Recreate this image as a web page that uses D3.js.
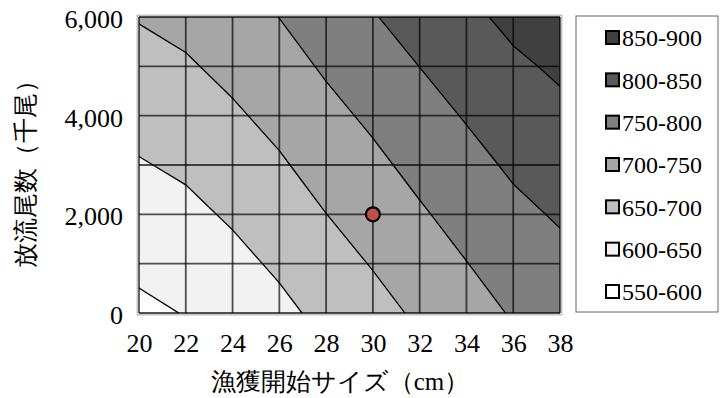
<!DOCTYPE html>
<html>
<head>
<meta charset="utf-8">
<script src="https://cdnjs.cloudflare.com/ajax/libs/d3/7.8.5/d3.min.js"></script>
<style>
  body { margin: 0; background: #fff; }
</style>
</head>
<body>
<svg id="chart" width="722" height="398"></svg>
<script>
// grid columns (catch start size, cm) and rows (release count, thousand fish)
const sizes = [20, 22, 24, 26, 28, 30, 32, 34, 36, 38];
const releases = [0, 1000, 2000, 3000, 4000, 5000, 6000];

// surface values, one array per row
const z0    = [590.5, 601.7, 618.5, 638.6, 662.2, 684.0, 707.4, 730.9, 753.8, 770.0];
const z1000 = [609.3, 620.3, 637.2, 657.3, 681.1, 702.6, 726.0, 749.0, 771.5, 787.4];
const z2000 = [628.0, 638.9, 655.9, 675.9, 699.6, 721.2, 744.6, 767.1, 789.1, 804.9];
const z3000 = [646.8, 657.5, 674.6, 694.6, 718.3, 739.9, 763.2, 785.3, 806.8, 822.3];
const z4000 = [665.4, 676.2, 693.4, 713.2, 737.0, 758.5, 781.8, 803.4, 824.5, 839.7];
const z5000 = [684.0, 694.8, 712.1, 731.9, 755.7, 777.2, 800.4, 821.5, 842.1, 857.1];
const z6000 = [702.6, 713.4, 730.8, 750.5, 774.4, 797.3, 819.0, 839.6, 861.0, 874.5];

const thresholds = [550, 600, 650, 700, 750, 800, 850];
const bandLabels = ['550-600', '600-650', '650-700', '700-750', '750-800', '800-850', '850-900'];
const bandColors = ['#ffffff', '#f2f2f2', '#bfbfbf', '#a6a6a6', '#7f7f7f', '#595959', '#404040'];

// current setting marker
const marker = { size: 30, release: 2000 };

const serif = '"Liberation Serif"';

const margin = { top: 17, right: 162, bottom: 85, left: 139 };
const width = 722, height = 398;
const innerWidth = width - margin.left - margin.right;
const innerHeight = height - margin.top - margin.bottom;

const svg = d3.select('#chart');
const g = svg.append('g')
  .attr('transform', `translate(${margin.left},${margin.top})`);

const xScale = d3.scaleLinear().domain(d3.extent(sizes)).range([0, innerWidth]);
const yScale = d3.scaleLinear().domain(d3.extent(releases)).range([innerHeight, 0]);

// contour grid -> data space (d3.contours puts sample i at i + 0.5)
const nx = sizes.length, ny = releases.length;
const rows = [z0, z1000, z2000, z3000, z4000, z5000, z6000];
const values = [].concat(...rows);
const gx = d3.scaleLinear().domain([0.5, nx - 0.5]).range(d3.extent(sizes));
const gy = d3.scaleLinear().domain([0.5, ny - 0.5]).range(d3.extent(releases));
const proj = d3.geoTransform({
  point(x, y) { this.stream.point(xScale(gx(x)), yScale(gy(y))); }
});
const path = d3.geoPath(proj);

const contours = d3.contours().size([nx, ny]).thresholds(thresholds)(values);

svg.append('defs').append('clipPath').attr('id', 'plot-clip')
  .append('rect').attr('width', innerWidth).attr('height', innerHeight);

const plot = g.append('g').attr('clip-path', 'url(#plot-clip)');

plot.append('rect')
  .attr('width', innerWidth).attr('height', innerHeight)
  .attr('fill', '#fff');

plot.selectAll('path.band')
  .data(contours)
  .enter().append('path')
  .attr('class', 'band')
  .attr('d', path)
  .attr('fill', (d, i) => bandColors[i])
  .attr('fill-rule', 'evenodd')
  .attr('stroke', 'none');

plot.selectAll('path.iso')
  .data(contours.slice(1))
  .enter().append('path')
  .attr('class', 'iso')
  .attr('d', path)
  .attr('fill', 'none')
  .attr('stroke', '#000')
  .attr('stroke-width', 1.3);

// grid lines at every data column / row
g.append('g').selectAll('line')
  .data(sizes)
  .enter().append('line')
  .attr('x1', d => xScale(d)).attr('x2', d => xScale(d))
  .attr('y1', 0).attr('y2', innerHeight)
  .attr('stroke', '#000').attr('stroke-opacity', 0.68).attr('stroke-width', 1.8);

g.append('g').selectAll('line')
  .data(releases)
  .enter().append('line')
  .attr('x1', 0).attr('x2', innerWidth)
  .attr('y1', d => yScale(d)).attr('y2', d => yScale(d))
  .attr('stroke', '#000').attr('stroke-opacity', 0.68).attr('stroke-width', 1.8);

g.append('rect')
  .attr('x', -1.8).attr('y', -1.8)
  .attr('width', innerWidth + 3.6).attr('height', innerHeight + 3.6)
  .attr('fill', 'none').attr('stroke', '#b5b5b5').attr('stroke-width', 1.2);

g.append('circle')
  .attr('cx', xScale(marker.size))
  .attr('cy', yScale(marker.release))
  .attr('r', 7)
  .attr('fill', '#c0504d')
  .attr('stroke', '#000')
  .attr('stroke-width', 2.2);

// axes
const xAxis = d3.axisBottom(xScale)
  .tickValues(sizes)
  .tickSize(0)
  .tickFormat(d3.format('d'));

const yAxis = d3.axisLeft(yScale)
  .tickValues(releases.filter((d, i) => i % 2 === 0))
  .tickSize(0)
  .tickPadding(16)
  .tickFormat(d3.format(','));

const xAxisG = g.append('g')
  .attr('transform', `translate(0,${innerHeight})`)
  .call(xAxis);
xAxisG.select('.domain').remove();
xAxisG.selectAll('text')
  .attr('y', 39).attr('dy', 0)
  .attr('fill', '#000')
  .style('font-family', serif)
  .style('font-size', '26px');

const yAxisG = g.append('g').call(yAxis);
yAxisG.select('.domain').remove();
yAxisG.selectAll('text')
  .attr('dy', '0.4em')
  .attr('fill', '#000')
  .style('font-family', serif)
  .style('font-size', '26px');

svg.append('text')
  .attr('x', 340).attr('y', 390)
  .attr('text-anchor', 'middle')
  .style('font-family', serif)
  .style('font-size', '25px')
  .text('漁獲開始サイズ（cm）');

svg.append('text')
  .attr('transform', 'translate(25,168) rotate(-90)')
  .attr('text-anchor', 'middle')
  .attr('dominant-baseline', 'central')
  .style('font-family', serif)
  .style('font-size', '25px')
  .text('放流尾数（千尾）');

// legend, highest band on top
const legend = svg.append('g').attr('transform', 'translate(576,16)');
legend.append('rect')
  .attr('width', 142).attr('height', 296)
  .attr('fill', '#fff').attr('stroke', '#666').attr('stroke-width', 1);

const legendY = d3.scalePoint()
  .domain(bandLabels.slice().reverse())
  .range([22, 276]);

const item = legend.selectAll('g.item')
  .data(bandLabels.map((label, i) => ({ label, color: bandColors[i] })).reverse())
  .enter().append('g')
  .attr('class', 'item')
  .attr('transform', d => `translate(0,${legendY(d.label)})`);

item.append('rect')
  .attr('x', 30).attr('y', -7)
  .attr('width', 13).attr('height', 13)
  .attr('fill', d => d.color)
  .attr('stroke', '#000').attr('stroke-width', 2);

item.append('text')
  .attr('x', 46).attr('dy', '0.34em')
  .style('font-family', serif)
  .style('font-size', '24px')
  .text(d => d.label);
</script>
</body>
</html>
